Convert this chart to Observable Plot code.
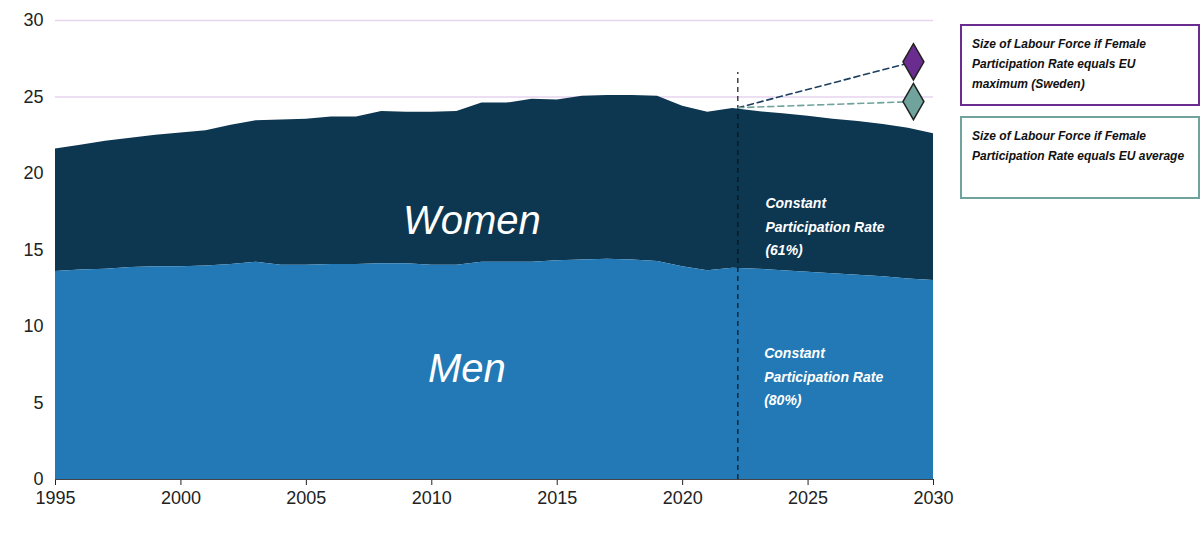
<!DOCTYPE html>
<html><head><meta charset="utf-8">
<script src="https://cdn.jsdelivr.net/npm/d3@7"></script>
<script src="https://cdn.jsdelivr.net/npm/@observablehq/plot@0.6"></script>
<style>
body{margin:0;background:#fff;font-family:"Liberation Sans",Arial,sans-serif;}
#wrap{position:relative;width:1200px;height:540px;}
.box{position:absolute;left:960px;width:216px;padding:8px 10px;font-size:12px;font-weight:bold;font-style:italic;line-height:20px;color:#111;background:#fff;}
</style></head><body>
<div id="wrap">
<div class="box" style="top:24px;height:62px;border:2px solid #6a2c8e;">Size of Labour Force if Female Participation Rate equals EU maximum (Sweden)</div>
<div class="box" style="top:116px;height:63px;border:2px solid #6fa39b;">Size of Labour Force if Female Participation Rate equals EU average</div>
</div>
<script>
const years = d3.range(1995, 2031);
const total = [21.6,21.85,22.1,22.3,22.5,22.65,22.8,23.15,23.45,23.5,23.55,23.7,23.7,24.05,24.0,24.0,24.05,24.6,24.6,24.85,24.8,25.05,25.1,25.1,25.05,24.4,24.0,24.25,24.05,23.9,23.75,23.55,23.4,23.2,22.95,22.6];
const men = [13.6,13.7,13.75,13.85,13.9,13.9,13.95,14.05,14.2,14.0,14.0,14.05,14.05,14.1,14.1,14.0,14.0,14.2,14.2,14.2,14.3,14.35,14.4,14.35,14.25,13.9,13.65,13.8,13.75,13.65,13.55,13.45,13.35,13.25,13.1,13.0];
const data = years.map((y,i)=>({year:y,total:total[i],men:men[i]}));
const splitYear = 2022.2;
const startPt = {year:2022.2, value:24.3};
const scenarios = [{name:"max",year:2029.2,value:27.3,color:"#6a2c8e",line:"#1d3f5e"},{name:"avg",year:2029.2,value:24.7,color:"#6fa39b",line:"#6fa39b"}];
const labels = [
 {year:2023.3,value:16.7,text:"Constant\nParticipation Rate\n(61%)"},
 {year:2023.25,value:6.9,text:"Constant\nParticipation Rate\n(80%)"}
];
const big = [{year:2011.6,value:16.9,text:"Women"},{year:2011.4,value:7.2,text:"Men"}];
const segs = scenarios.flatMap(s=>[{s:s.name,year:startPt.year,value:startPt.value,c:s.line},{s:s.name,year:s.year,value:s.value,c:s.line}]);
const chart = Plot.plot({
 width:1200,height:540,marginLeft:55,marginRight:267,marginTop:20,marginBottom:61,
 style:{fontSize:"18px",fontFamily:"Liberation Sans, Arial, sans-serif",color:"#222"},
 x:{domain:[1995,2030],ticks:d3.range(1995,2031,5),tickFormat:d=>String(d),label:null,tickSize:6,tickPadding:6},
 y:{domain:[0,30],ticks:[0,5,10,15,20,25,30],label:null,tickSize:0,tickPadding:12},
 marks:[
  Plot.ruleY([5,10,15,20,25,30],{stroke:"#e6d5ef",strokeWidth:1.5}),
  Plot.areaY(data,{x:"year",y1:"men",y2:"total",fill:"#0d3651"}),
  Plot.areaY(data,{x:"year",y1:0,y2:"men",fill:"#2279b5"}),
  Plot.ruleY([0],{stroke:"#444"}),
  Plot.ruleX([splitYear],{y1:0,y2:26.6,stroke:"#111",strokeDasharray:"5,4",strokeWidth:1.2}),
  Plot.line(segs,{x:"year",y:"value",z:"s",stroke:"c",strokeDasharray:"6,4",strokeWidth:1.6}),
  Plot.dot(scenarios,{x:"year",y:"value",symbol:"diamond",r:11,fill:"color",stroke:"#222",strokeWidth:1.5}),
  Plot.text(big,{x:"year",y:"value",text:"text",fill:"#fff",fontSize:40,fontStyle:"italic"}),
  Plot.text(labels,{x:"year",y:"value",text:"text",fill:"#fff",fontSize:14,fontWeight:"bold",fontStyle:"italic",textAnchor:"start",lineHeight:1.7})
 ]
});
document.getElementById("wrap").prepend(chart);
</script></body></html>
